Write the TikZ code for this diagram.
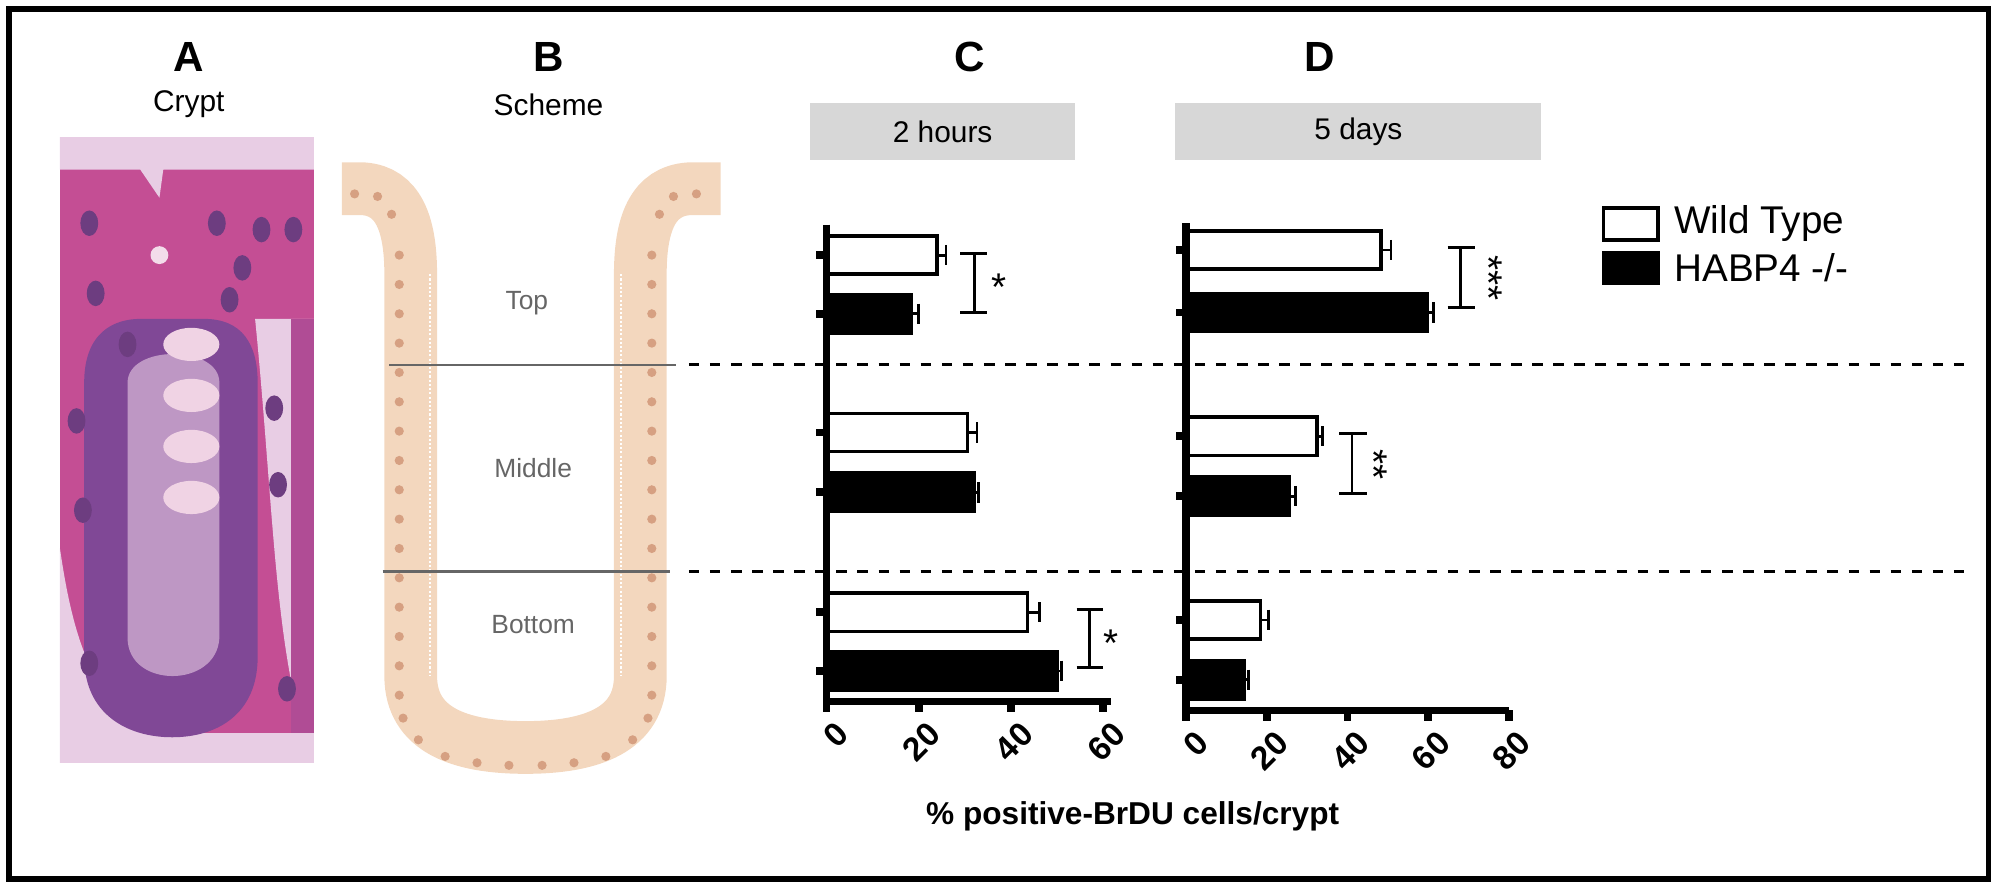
\documentclass[tikz,border=0pt]{standalone}
\usepackage{fontspec}
\setmainfont{Liberation Sans}
\usepackage{tikz}
\definecolor{peach}{RGB}{243,215,190}
\definecolor{nucl}{RGB}{214,160,130}
\definecolor{hdr}{RGB}{215,215,215}
\definecolor{he}{RGB}{196,78,148}
\definecolor{hedark}{RGB}{128,72,150}
\definecolor{hepale}{RGB}{232,205,228}
\tikzset{
  barw/.style={draw=black,line width=1pt,fill=white},
  barb/.style={draw=black,line width=1pt,fill=black},
  ax/.style={line width=2.2pt},
  errb/.style={line width=0.8pt},
  sigb/.style={line width=0.8pt},
  ticklab/.style={font=\bfseries\fontsize{9.5}{10}\selectfont,rotate=45,anchor=north east,inner sep=0.5pt},
  panel/.style={font=\bfseries\fontsize{12}{12}\selectfont},
  hbox/.style={fill=hdr,minimum height=5.7mm,font=\fontsize{8.5}{9}\selectfont},
  zone/.style={text=black!60,font=\fontsize{7.5}{8}\selectfont},
}
\begin{document}
\begin{tikzpicture}[x=0.012755cm,y=-0.012755cm]
\useasboundingbox (0,0) rectangle (1568,697);
\draw[line width=1.6pt] (7,7) rectangle (1559,689);

% panel A
\node[panel] (lA) at (148,45) {A};
\node[font=\fontsize{8.5}{9}\selectfont] (tA) at (148,82) {Crypt};
\begin{scope}
\clip (47,108) rectangle (246,598);
\fill[he] (47,108) rectangle (246,598);
\fill[hepale] (47,133) -- (110,133) -- (125,155) -- (128,133) -- (246,133) -- (246,100) -- (47,100) -- cycle;
\fill[hepale] (200,250) .. controls (215,400) and (215,520) .. (246,598) -- (246,250) -- cycle;
\fill[he!70!hedark] (228,250) rectangle (246,598);
\fill[hepale] (47,430) .. controls (60,520) and (80,560) .. (140,590) -- (47,598) -- cycle;
\fill[hepale] (47,575) rectangle (246,598);
\fill[hedark] (66,300) .. controls (66,260) and (90,250) .. (110,250) -- (160,250)
  .. controls (190,250) and (202,270) .. (202,300) -- (202,515)
  .. controls (202,560) and (170,578) .. (135,578)
  .. controls (100,578) and (66,560) .. (66,515) -- cycle;
\fill[hepale,opacity=0.6] (100,300) -- (100,500) .. controls (100,540) and (170,540) .. (172,500) -- (172,300)
  .. controls (172,270) and (100,270) .. (100,300) -- cycle;
\foreach \yy in {270,310,350,390}
  \fill[white!75!he] (150,\yy) ellipse (22 and 13);
\foreach \px/\py in {70/175,75/230,100/270,170/175,190/210,205/180,230/180,180/235,60/330,65/400,215/320,218/380,70/520,225/540}
  \fill[hedark!85!black] (\px,\py) ellipse (7 and 10);
\fill[white!80!he] (125,200) circle (7);
\end{scope}

% panel B
\node[panel] (lB) at (430,45) {B};
\node[font=\fontsize{8.5}{9}\selectfont] (tB) at (430,82) {Scheme};
\draw[peach,line width=15pt]
  (268,148) -- (285,148) .. controls (312,150) and (322,175) .. (322,215)
  -- (322,530) .. controls (322,572) and (360,586) .. (412,586)
  .. controls (464,586) and (502,572) .. (502,530)
  -- (502,215) .. controls (502,175) and (512,150) .. (540,148) -- (565,148);
\draw[white,line width=0.6pt,dash pattern=on 0.6pt off 0.6pt]
  (337,215) -- (337,530) (487,215) -- (487,530);
\foreach \yy in {200,223,...,545}{
  \fill[nucl] (313,\yy) circle (3.6);
  \fill[nucl] (511,\yy) circle (3.6);}
\foreach \px/\py in {278/152,296/154,307/168,316/563,328/580,349/593,374/598,399/600,425/600,450/598,475/593,496/580,508/563,517/168,528/154,546/152}
  \fill[nucl] (\px,\py) circle (3.6);
\node[zone] (ztop) at (413,238) {Top};
\node[zone] (zmid) at (418,367) {Middle};
\node[zone] (zbot) at (418,490) {Bottom};
\draw[black!60,line width=0.7pt] (305,286) -- (530,286);
\draw[black!60,line width=0.7pt] (300,448) -- (525,448);
\draw[dashed,line width=0.9pt] (540,286) -- (1540,286);
\draw[dashed,line width=0.9pt] (540,448) -- (1540,448);

% panel C
\node[panel] (lC) at (760,45) {C};
\node[hbox,minimum width=2.65cm] (h2) at (739,103) {2 hours};
\foreach \yc/\v/\e/\s in {200/23.9/2/barw,246/18.4/1.5/barb,339/30.6/2/barw,386/32/1/barb,480/43.6/2.5/barw,526/50/1/barb}{
  \draw[\s] (648,\yc-15) rectangle (648+3.617*\v,\yc+15);
  \draw[errb] (648+3.617*\v,\yc) -- (648+3.617*\v+3.617*\e,\yc)
     (648+3.617*\v+3.617*\e,\yc-8) -- (648+3.617*\v+3.617*\e,\yc+8);
  \draw[ax] (640,\yc) -- (648,\yc);}
\draw[ax] (648,176) -- (648,550) -- (871,550);
\foreach \t in {0,20,40,60}{
  \draw[ax] (648+3.617*\t,550) -- (648+3.617*\t,558);
  \node[ticklab] at (648+3.617*\t+6,562) {\t};}
\draw[sigb] (753,199) -- (774,199) (764,199) -- (764,245) (753,245) -- (774,245);
\node[font=\fontsize{11}{11}\selectfont] (sC1) at (783,225) {*};
\draw[sigb] (844,478) -- (865,478) (854,478) -- (854,523) (844,523) -- (865,523);
\node[font=\fontsize{11}{11}\selectfont] (sC2) at (871,504) {*};

% panel D
\node[panel] (lD) at (1035,45) {D};
\node[hbox,minimum width=3.66cm] (h5) at (1065,103) {5 days};
\foreach \yc/\v/\e/\s in {196/48.3/2.5/barw,245/59.8/1.5/barb,342/32.4/1.5/barw,389/25.6/1.5/barb,486/18.4/2/barw,533/14.4/1/barb}{
  \draw[\s] (930,\yc-15) rectangle (930+3.16*\v,\yc+15);
  \draw[errb] (930+3.16*\v,\yc) -- (930+3.16*\v+3.16*\e,\yc)
     (930+3.16*\v+3.16*\e,\yc-8) -- (930+3.16*\v+3.16*\e,\yc+8);
  \draw[ax] (922,\yc) -- (930,\yc);}
\draw[ax] (930,175) -- (930,557) -- (1183,557);
\foreach \t in {0,20,40,60,80}{
  \draw[ax] (930+3.16*\t,557) -- (930+3.16*\t,565);
  \node[ticklab] at (930+3.16*\t+6,569) {\t};}
\draw[sigb] (1135,194) -- (1156,194) (1145,194) -- (1145,241) (1135,241) -- (1156,241);
\node[font=\fontsize{11}{11}\selectfont,rotate=-90] (sD1) at (1167,218) {***};
\draw[sigb] (1050,340) -- (1072,340) (1060,340) -- (1060,387) (1050,387) -- (1072,387);
\node[font=\fontsize{11}{11}\selectfont,rotate=-90] (sD2) at (1077,364) {**};

\node[font=\bfseries\fontsize{9}{10}\selectfont] (xl) at (888,640) {\% positive-BrDU cells/crypt};

% legend
\draw[barw] (1257,163) rectangle (1300,188);
\draw[barb] (1257,198) rectangle (1300,222);
\node[anchor=west,font=\fontsize{11}{12}\selectfont] (lwt) at (1303,175) {Wild Type};
\node[anchor=west,font=\fontsize{11}{12}\selectfont] (lko) at (1303,210) {HABP4 -/-};
\end{tikzpicture}
\end{document}
